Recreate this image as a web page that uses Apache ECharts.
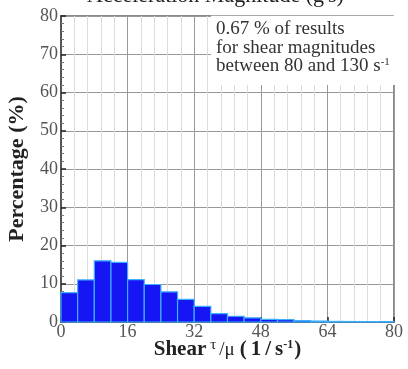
<!DOCTYPE html>
<html>
<head>
<meta charset="utf-8">
<script src="https://cdn.jsdelivr.net/npm/echarts@6/dist/echarts.min.js"></script>
<style>
  html, body { margin: 0; padding: 0; background: #fff; }
  #chart { width: 408px; height: 369px; }
</style>
</head>
<body>
<div id="chart"></div>
<script>
// histogram bins (shear, 1/s) and percentage of results in each bin
const binStarts = [0, 4, 8, 12, 16, 20, 24, 28, 32, 36, 40, 44, 48, 52, 56, 60, 64, 68, 72, 76];
const binWidth = 4;
const percentages = [7.7, 11.0, 16.0, 15.6, 11.1, 9.8, 7.9, 5.9, 4.1, 2.2, 1.5, 1.1, 0.7, 0.6, 0.35, 0.25, 0.15, 0.12, 0.1, 0.1];
const xTicks = [0, 16, 32, 48, 64, 80];
const yTicks = [0, 10, 20, 30, 40, 50, 60, 70, 80];

const serif = '"Liberation Serif", "DejaVu Serif", serif';

const chart = echarts.init(document.getElementById('chart'), null, { renderer: 'canvas' });

// each bar carries [start, end, value]
const bars = binStarts.map((s, i) => [s, s + binWidth, percentages[i]]);

const option = {
  backgroundColor: '#fff',
  animation: false,
  grid: {
    left: 61, right: 14, top: 16, bottom: 47,
    containLabel: false, outerBoundsMode: 'none',
    show: true, borderColor: '#666', borderWidth: 1.5
  },
  xAxis: {
    type: 'value',
    min: xTicks[0],
    max: xTicks[xTicks.length - 1],
    interval: 16,
    axisLine: { show: true, onZero: false, lineStyle: { color: '#555', width: 2 } },
    axisTick: { show: true, inside: true, length: 5, lineStyle: { color: '#222', width: 1.5 } },
    minorTick: { show: false },
    axisLabel: { color: '#555', fontFamily: serif, fontSize: 18, margin: 1 },
    splitLine: { show: true, lineStyle: { color: '#999', width: 1 } },
    minorSplitLine: { show: true, lineStyle: { color: '#ddd', width: 1 } },
    name: '{b|Shear}{t|τ}{m|/μ}{p|(}{p|1}{p|/}{b|s}{s|-1}{b|)}',
    nameLocation: 'middle',
    nameGap: 28,
    nameMoveOverlap: false,
    nameTextStyle: {
      verticalAlign: 'middle',
      rich: {
        b: { fontFamily: serif, fontWeight: 'bold', fontSize: 21, color: '#222' },
        p: { fontFamily: serif, fontWeight: 'bold', fontSize: 21, color: '#222', padding: [0, 4, 0, 0] },
        t: { fontFamily: serif, fontSize: 15, color: '#222', padding: [0, 3, 9, 4] },
        m: { fontFamily: serif, fontSize: 19, color: '#222', padding: [0, 5, 0, 0] },
        s: { fontFamily: serif, fontWeight: 'bold', fontSize: 12, color: '#222', padding: [0, 1, 11, 0] }
      }
    }
  },
  yAxis: {
    type: 'value',
    min: yTicks[0],
    max: yTicks[yTicks.length - 1],
    interval: 10,
    axisLine: { show: true, lineStyle: { color: '#555', width: 2 } },
    axisTick: { show: true, inside: true, length: 5, lineStyle: { color: '#222', width: 1.5 } },
    minorTick: { show: true, splitNumber: 5, length: 3, lineStyle: { color: '#777' } },
    axisLabel: { color: '#555', fontFamily: serif, fontSize: 18, margin: 3 },
    splitLine: { show: true, lineStyle: { color: '#999', width: 1 } },
    name: 'Percentage (%)',
    nameLocation: 'middle',
    nameGap: 33,
    nameTextStyle: { fontFamily: serif, fontWeight: 'bold', fontSize: 22, color: '#222' }
  },
  series: [{
    type: 'custom',
    data: bars,
    encode: { x: [0, 1], y: 2 },
    renderItem: (params, api) => {
      const p0 = api.coord([api.value(0), 0]);
      const p1 = api.coord([api.value(1), api.value(2)]);
      return {
        type: 'rect',
        shape: { x: p0[0], y: p1[1], width: p1[0] - p0[0], height: p0[1] - p1[1] },
        style: { fill: '#1616f5', stroke: '#3cb0ff', lineWidth: 1.2 }
      };
    },
    z: 3
  }],
  graphic: [
    // clipped title above the plot
    {
      type: 'text', left: 87, top: -15, z: 10,
      style: { text: "Acceleration Magnitude (g's)", font: '22px ' + serif, fill: '#222' }
    },
    // annotation box in the top-right corner
    {
      type: 'rect', left: 211, top: 15, z: 10,
      shape: { width: 197, height: 70 },
      style: { fill: '#fff', stroke: null }
    },
    {
      type: 'line', z: 11,
      shape: { x1: 211, y1: 15.5, x2: 394, y2: 15.5 },
      style: { stroke: '#aaa', lineWidth: 1 }
    },
    {
      type: 'text', left: 216, top: 20, z: 12,
      style: {
        text: '0.67 % of results\nfor shear magnitudes\nbetween 80 and 130 s{s|-1}',
        rich: { s: { fontSize: 11, padding: [0, 0, 9, 0], fontFamily: serif, fill: '#333' } },
        font: '19px ' + serif,
        lineHeight: 18.5,
        fill: '#333'
      }
    }
  ]
};

chart.setOption(option);
</script>
</body>
</html>
